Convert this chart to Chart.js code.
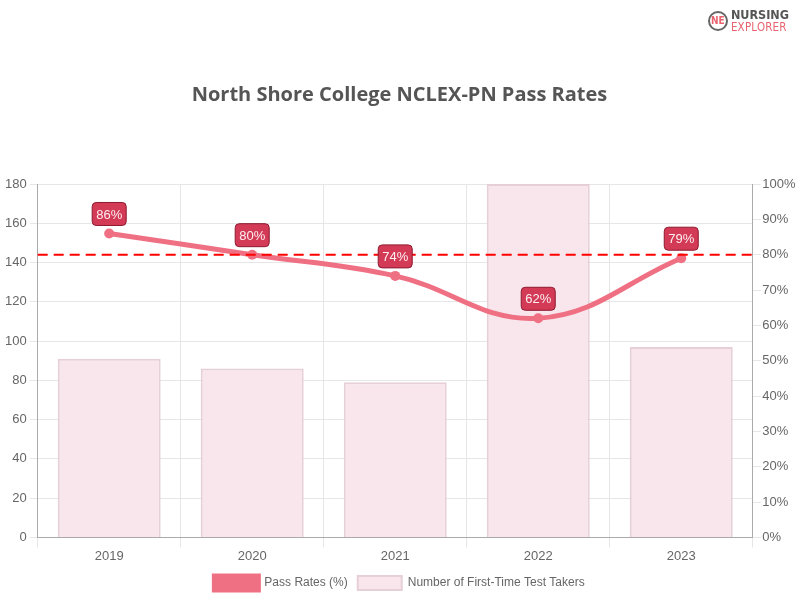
<!DOCTYPE html>
<html>
<head>
<meta charset="utf-8">
<script src="https://cdn.jsdelivr.net/npm/chart.js@4/dist/chart.umd.min.js"></script>
<style>
  html, body { margin: 0; padding: 0; background: #fff; }
  #wrap { position: relative; width: 800px; height: 600px; }
  #logo { position: absolute; right: 11px; top: 9px; display: flex; align-items: center; font-family: "DejaVu Sans Condensed", "DejaVu Sans", sans-serif; font-weight: bold; line-height: 12px; }
  #logo .mark { width: 20px; height: 20px; border: 2px solid #666; border-radius: 50%; color: #e8636f; font-size: 10px; display: flex; align-items: center; justify-content: center; margin-right: 3px; box-sizing: border-box; }
  #logo .t1 { color: #555; font-size: 12.5px; }
  #logo .t2 { color: #e8636f; font-size: 11.5px; font-weight: normal; letter-spacing: 0.2px; }
</style>
</head>
<body>
<div id="wrap">
  <canvas id="c" width="800" height="600"></canvas>
  <div id="logo"><div class="mark">NE</div><div><div class="t1">NURSING</div><div class="t2">EXPLORER</div></div></div>
</div>
<script>
/* global Chart */
(() => {
  const years = ["2019", "2020", "2021", "2022", "2023"];
  const passRates = [86, 80, 74, 62, 79];
  const testTakers = [91, 86, 79, 180, 97];
  const benchmark = 80; // dashed reference line, on the % axis

  const colors = {
    line: "#f07083",
    bar: "#f8e6ec",
    barBorder: "#e6cfd7",
    label: "#d23a56",
    labelBorder: "#8e1a30",
    text: "#666",
    grid: "#e6e6e6",
    axis: "#aaa",
  };

  Chart.defaults.font.family = "'Liberation Sans', Arial, sans-serif";
  Chart.defaults.font.size = 12;
  Chart.defaults.color = colors.text;

  // red dashed line across the plot at the benchmark rate
  const benchmarkLine = {
    id: "benchmarkLine",
    afterDatasetsDraw(chart) {
      const { ctx, chartArea } = chart;
      const y = chart.scales.y1.getPixelForValue(benchmark);
      ctx.save();
      ctx.strokeStyle = "#ff0000";
      ctx.lineWidth = 2;
      ctx.setLineDash([10, 6]);
      ctx.beginPath();
      ctx.moveTo(chartArea.left, y);
      ctx.lineTo(chartArea.right, y);
      ctx.stroke();
      ctx.restore();
    },
  };

  // little badges above the line points, like datalabels would do
  const pointLabels = {
    id: "pointLabels",
    afterDraw(chart) {
      const { ctx } = chart;
      const meta = chart.getDatasetMeta(0);
      ctx.save();
      ctx.font = "13px 'Liberation Sans', Arial, sans-serif";
      ctx.textAlign = "center";
      ctx.textBaseline = "middle";
      meta.data.forEach((pt, i) => {
        const txt = `${passRates[i]}%`;
        const w = ctx.measureText(txt).width + 8;
        const h = 23;
        const x = pt.x - w / 2;
        const y = pt.y - 8 - h;
        ctx.beginPath();
        ctx.roundRect(x, y, w, h, 4);
        ctx.fillStyle = colors.label;
        ctx.fill();
        ctx.lineWidth = 1;
        ctx.strokeStyle = colors.labelBorder;
        ctx.stroke();
        ctx.fillStyle = "#fdeef1";
        ctx.fillText(txt, pt.x, y + h / 2 + 1);
      });
      ctx.restore();
    },
  };

  // eslint-disable-next-line no-new
  new Chart(document.getElementById("c"), {
    data: {
      labels: years,
      datasets: [
        {
          type: "line",
          label: "Pass Rates (%)",
          data: passRates,
          yAxisID: "y1",
          borderColor: colors.line,
          backgroundColor: colors.line,
          borderWidth: 5,
          tension: 0.4,
          pointRadius: 5,
          pointBackgroundColor: colors.line,
          pointBorderWidth: 0,
        },
        {
          type: "bar",
          label: "Number of First-Time Test Takers",
          data: testTakers,
          yAxisID: "y",
          backgroundColor: colors.bar,
          borderColor: colors.barBorder,
          borderWidth: 2,
        },
      ],
    },
    plugins: [benchmarkLine, pointLabels],
    options: {
      responsive: false,
      animation: false,
      layout: { padding: { left: 2, right: 3, bottom: 0 } },
      plugins: {
        title: {
          display: true,
          text: "North Shore College NCLEX-PN Pass Rates",
          color: "#555",
          font: { family: "'Open Sans', sans-serif", size: 20, weight: "bold" },
          padding: { top: 83, bottom: 77 },
        },
        legend: {
          position: "bottom",
          labels: { boxWidth: 44, boxHeight: 14, padding: 10, color: colors.text },
        },
        tooltip: { enabled: false },
      },
      scales: {
        x: {
          grid: { color: colors.grid, tickLength: 10 },
          border: { color: colors.axis },
          ticks: { color: colors.text, padding: 1.5, font: { size: 13 } },
        },
        y: {
          position: "left",
          min: 0,
          max: 180,
          ticks: { stepSize: 20, color: colors.text, font: { size: 13 } },
          grid: { color: colors.grid },
          border: { color: colors.axis },
        },
        y1: {
          position: "right",
          min: 0,
          max: 100,
          ticks: { stepSize: 10, padding: 1.5, color: colors.text, font: { size: 13 }, callback: (v) => `${v}%` },
          grid: { drawOnChartArea: false, color: colors.grid },
          border: { color: colors.axis },
        },
      },
    },
  });
})();
</script>
</body>
</html>
